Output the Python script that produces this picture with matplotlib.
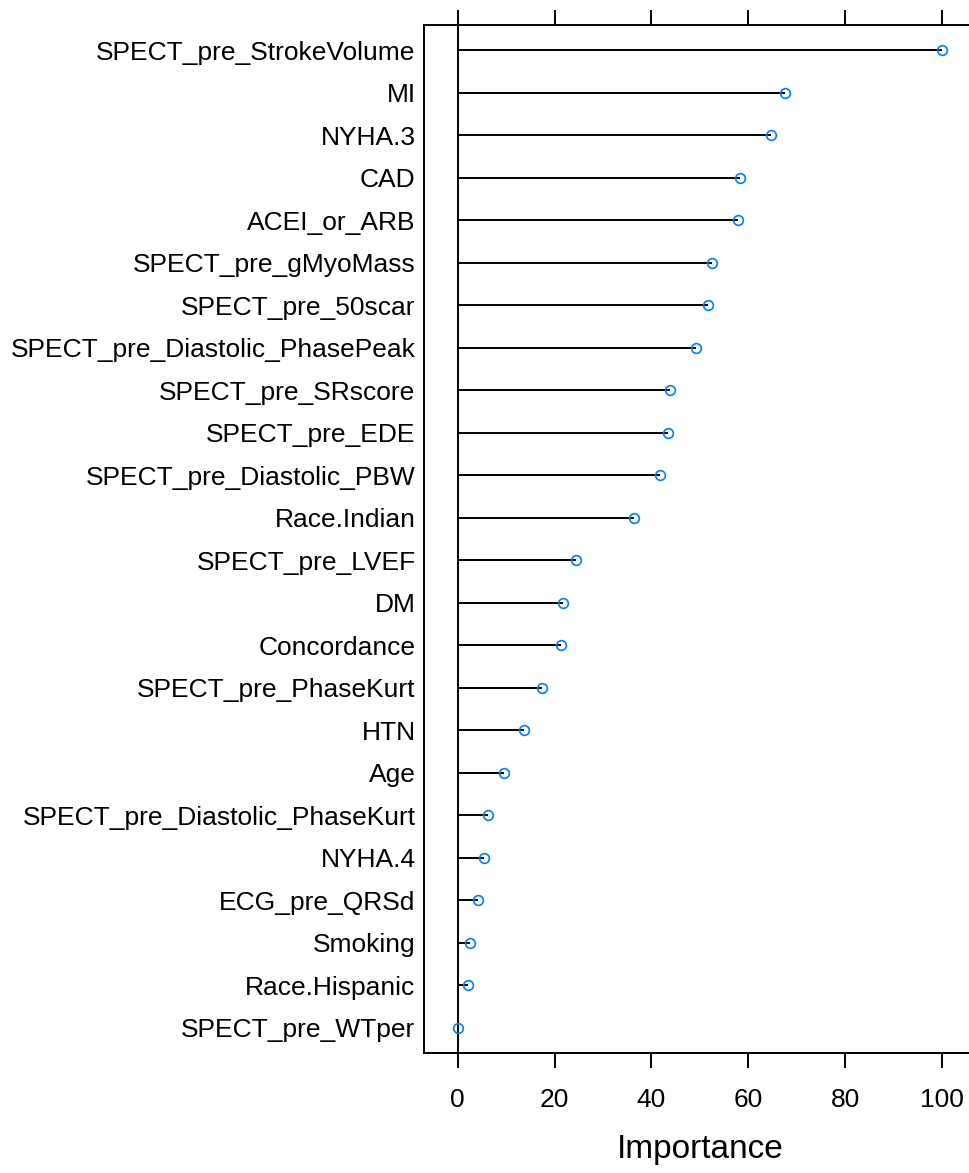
import matplotlib
matplotlib.use("Agg")
import matplotlib.pyplot as plt

features = [
    "SPECT_pre_StrokeVolume", "MI", "NYHA.3", "CAD", "ACEI_or_ARB",
    "SPECT_pre_gMyoMass", "SPECT_pre_50scar", "SPECT_pre_Diastolic_PhasePeak",
    "SPECT_pre_SRscore", "SPECT_pre_EDE", "SPECT_pre_Diastolic_PBW",
    "Race.Indian", "SPECT_pre_LVEF", "DM", "Concordance", "SPECT_pre_PhaseKurt",
    "HTN", "Age", "SPECT_pre_Diastolic_PhaseKurt", "NYHA.4", "ECG_pre_QRSd",
    "Smoking", "Race.Hispanic", "SPECT_pre_WTper",
]
importance = [
    100.0, 67.6, 64.7, 58.3, 57.9, 52.5, 51.7, 49.2, 43.8, 43.4, 41.7, 36.4,
    24.4, 21.7, 21.3, 17.4, 13.6, 9.5, 6.2, 5.4, 4.1, 2.5, 2.1, 0.0,
]
xticks = [0, 20, 40, 60, 80, 100]

plt.rcParams['font.family'] = ['Liberation Sans', 'DejaVu Sans']

fig = plt.figure(figsize=(9.70, 11.73), dpi=100)
ax = fig.add_axes([0.437, 0.102, 0.569, 0.877])

n = len(features)
ypos = list(range(n, 0, -1))

ax.axvline(0, color='black', lw=1.4, zorder=1)
ax.hlines(ypos, 0, importance, color='black', lw=1.4, zorder=2)
ax.plot(importance, ypos, linestyle='none', marker='o', markersize=7,
        markerfacecolor='none', markeredgecolor='#0080ff', markeredgewidth=1.2, zorder=3)

ax.set_xlim(-7, 107)
ax.set_ylim(0.4, n + 0.6)
ax.set_yticks(ypos)
ax.set_yticklabels(features, fontsize=19)
ax.set_xticks(xticks)
ax.set_xticklabels([str(t) for t in xticks], fontsize=19)
ax.tick_params(axis='y', length=0, pad=6)
ax.tick_params(axis='x', top=True, labeltop=False, direction='out', length=11,
               width=1.4, pad=14)
for s in ax.spines.values():
    s.set_linewidth(1.4)
ax.spines['right'].set_visible(False)
ax.set_xlabel("Importance", fontsize=24, labelpad=16)

fig.savefig("out.png", dpi=100)
